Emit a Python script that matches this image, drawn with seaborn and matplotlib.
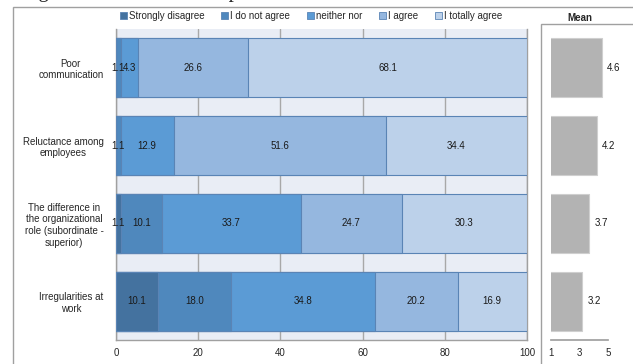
import numpy as np
import pandas as pd
import matplotlib
matplotlib.use("Agg")
import matplotlib.pyplot as plt
from matplotlib.patches import Patch, Rectangle
import seaborn as sns

# --- data -------------------------------------------------------------
categories = [
    "Poor\ncommunication",
    "Reluctance among\nemployees",
    "The difference in\nthe organizational\nrole (subordinate -\nsuperior)",
    "Irregularities at\nwork",
]
levels = ["Strongly disagree", "I do not agree", "neither nor", "I agree", "I totally agree"]
strongly_disagree = [0.0, 0.0, 1.1, 10.1]
do_not_agree = [1.1, 1.1, 10.1, 18.0]
neither_nor = [4.3, 12.9, 33.7, 34.8]
agree = [26.6, 51.6, 24.7, 20.2]
totally_agree = [68.1, 34.4, 30.3, 16.9]
means = [4.6, 4.2, 3.7, 3.2]

level_colors = ["#44729f", "#4f88bd", "#5b9bd5", "#95b7df", "#bcd1ea"]

# --- styling ----------------------------------------------------------
sns.set_theme(style="white")
plt.rcParams["font.family"] = ["Liberation Sans", "DejaVu Sans"]
plt.rcParams["font.size"] = 7

W, H = 633, 364
fig = plt.figure(figsize=(W / 100, H / 100), dpi=100)
fig.patch.set_facecolor("white")


def fx(px):
    return px / W


def fy(py):
    return 1 - py / H


def frame(x0, y0, **kw):
    """Box whose left/top edges sit at pixel (x0, y0) and run past the canvas."""
    bottom = fy(H + 20)
    return Rectangle((fx(x0), bottom), 1.2, fy(y0) - bottom,
                     transform=fig.transFigure, zorder=-1, **kw)


# outer frame and clipped heading
fig.patches.append(frame(13, 7, fill=False, edgecolor="#a0a0a0", lw=1.0))
fig.text(fx(-22), fy(-3), "Ranking of Status in the workplace",
         family="Liberation Serif", fontsize=15, va="baseline", ha="left")

# --- stacked percentage bars ------------------------------------------
ax = fig.add_axes([fx(116), fy(340), fx(527) - fx(116), (340 - 29) / H])
ax.set_facecolor("#e9edf5")

series = [strongly_disagree, do_not_agree, neither_nor, agree, totally_agree]
cum = np.cumsum(np.array(series), axis=0)
df = pd.DataFrame({"category": categories})
for k in range(len(levels) - 1, -1, -1):
    df["value"] = cum[k]
    sns.barplot(data=df, x="value", y="category", order=categories, orient="h",
                color=level_colors[k], saturation=1, width=0.76,
                edgecolor="#5a84b5", linewidth=0.8, ax=ax, zorder=2 + (len(levels) - k))

for k, vals in enumerate(series):
    starts = cum[k] - np.array(vals)
    for i, v in enumerate(vals):
        if v > 0:
            ax.text(starts[i] + v / 2, i, f"{v:.1f}", ha="center", va="center",
                    fontsize=7, color="#1a1a1a", zorder=20)

ax.set_xlim(0, 100)
ax.set_ylim(3.5, -0.5)
ax.set_xticks(np.arange(0, 101, 20))
ax.xaxis.grid(True, color="#a8a8a8", lw=1.0)
ax.set_axisbelow(True)
ax.set_xlabel("")
ax.set_ylabel("")
ax.set_yticks(range(len(categories)))
ax.set_yticklabels(categories, multialignment="center", fontsize=7)
ax.set_yticks([-0.5, 0.5, 1.5, 2.5, 3.5], minor=True)
ax.tick_params(axis="y", which="major", length=0, pad=9)
ax.tick_params(axis="y", which="minor", length=4, color="#9a9a9a", direction="out")
ax.tick_params(axis="x", length=4, color="#9a9a9a", direction="out", pad=2, labelsize=7)
for s in ["left", "bottom", "right"]:
    ax.spines[s].set_color("#a0a0a0")
    ax.spines[s].set_linewidth(1.0)
ax.spines["top"].set_visible(False)

# --- legend -----------------------------------------------------------
handles = [Patch(facecolor=c, edgecolor="#5a84b5", lw=0.6, label=l)
           for c, l in zip(level_colors, levels)]
fig.legend(handles=handles, loc="center", bbox_to_anchor=(fx(311), fy(16)),
           ncol=5, frameon=False, fontsize=7, handlelength=0.7, handleheight=0.7,
           handletextpad=0.25, columnspacing=1.7, borderaxespad=0, borderpad=0)

# --- mean panel -------------------------------------------------------
fig.patches.append(frame(541, 24, facecolor="white", edgecolor="#a0a0a0", lw=1.0))
fig.text(fx(580), fy(18), "Mean", ha="center", va="center", fontsize=7,
         fontweight="bold")

axm = fig.add_axes([fx(551), fy(340), fx(608) - fx(551), (340 - 29) / H])
axm.patch.set_alpha(0)
mdf = pd.DataFrame({"category": categories, "mean": means})
sns.barplot(data=mdf, x="mean", y="category", order=categories, orient="h",
            color="#b3b3b3", saturation=1, width=0.76, edgecolor="#cfcfcf",
            linewidth=0.8, ax=axm)
for i, m in enumerate(means):
    axm.annotate(f"{m:.1f}", (m, i), xytext=(3.5, 0), textcoords="offset points",
                 ha="left", va="center", fontsize=7, color="#1a1a1a")
axm.set_xlim(1, 5)
axm.set_ylim(3.5, -0.5)
axm.set_xticks([1, 3, 5])
axm.set_yticks([])
axm.set_xlabel("")
axm.set_ylabel("")
for s in ["left", "right", "top"]:
    axm.spines[s].set_visible(False)
axm.spines["bottom"].set_color("#a0a0a0")
axm.spines["bottom"].set_bounds(1, 5)
axm.tick_params(axis="x", length=5, color="#a0a0a0", direction="inout", pad=3, labelsize=7)

fig.savefig("out.png", dpi=100)
